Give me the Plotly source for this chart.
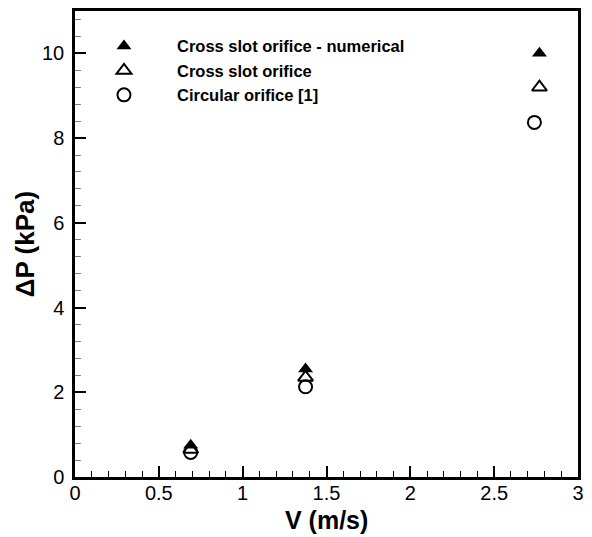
import plotly.graph_objects as go

# Data
x_num = [0.69, 1.375, 2.77]
y_num = [0.75, 2.55, 10.0]
x_exp = [0.69, 1.375, 2.77]
y_exp = [0.65, 2.35, 9.2]
x_circ = [0.69, 1.375, 2.74]
y_circ = [0.58, 2.13, 8.37]

names = ["Cross slot orifice - numerical", "Cross slot orifice", "Circular orifice [1]"]
x_ticks = [0, 0.5, 1, 1.5, 2, 2.5, 3]
x_ticklabels = ["0", "0.5", "1", "1.5", "2", "2.5", "3"]
y_ticks = [0, 2, 4, 6, 8, 10]
y_ticklabels = ["0", "2", "4", "6", "8", "10"]
x_title = "V (m/s)"
y_title = "ΔP (kPa)"

FONT = "Arial, Liberation Sans, sans-serif"

fig = go.Figure()
fig.add_trace(go.Scatter(x=x_num, y=y_num, mode="markers", name="<b>" + names[0] + "</b>",
                         marker=dict(symbol="triangle-up", size=13, color="black",
                                     line=dict(width=0))))
fig.add_trace(go.Scatter(x=x_exp, y=y_exp, mode="markers", name="<b>" + names[1] + "</b>",
                         marker=dict(symbol="triangle-up-open", size=13, color="black",
                                     line=dict(width=2, color="black"))))
fig.add_trace(go.Scatter(x=x_circ, y=y_circ, mode="markers", name="<b>" + names[2] + "</b>",
                         marker=dict(symbol="circle-open", size=13, color="black",
                                     line=dict(width=2, color="black"))))

axis_common = dict(
    showgrid=False, zeroline=False,
    showline=True, linecolor="black", linewidth=2.5, mirror=True,
    ticks="inside", ticklen=11, tickwidth=1.5, tickcolor="black",
    tickfont=dict(family=FONT, size=20, color="black"),
)

fig.update_xaxes(range=[0, 3], tickvals=x_ticks, ticktext=x_ticklabels,
                 minor=dict(dtick=0.1, ticks="inside", ticklen=6, tickwidth=1, tickcolor="black"),
                 ticklabelstandoff=-4,
                 **axis_common)
fig.update_yaxes(range=[0, 11], tickvals=y_ticks, ticktext=y_ticklabels,
                 minor=dict(dtick=0.4, tick0=0, ticks="inside", ticklen=6, tickwidth=1, tickcolor="gray"),
                 ticklabelstandoff=4,
                 title=dict(text="<b>" + y_title + "</b>", standoff=0,
                            font=dict(family=FONT, size=26, color="black")),
                 **axis_common)

fig.add_annotation(text="<b>" + x_title + "</b>", xref="paper", yref="paper",
                   x=0.5, y=-0.057, xanchor="center", yanchor="top", showarrow=False,
                   font=dict(family=FONT, size=25, color="black"))

fig.update_layout(
    width=592, height=537,
    margin=dict(l=75, r=9, t=8, b=60),
    plot_bgcolor="white", paper_bgcolor="white",
    showlegend=True,
    legend=dict(x=-0.008, y=0.962, xanchor="left", yanchor="top",
                bgcolor="rgba(0,0,0,0)", borderwidth=0,
                font=dict(family=FONT, size=16.5, color="black"),
                itemwidth=96, tracegroupgap=0),
)

fig.write_html("out.html")
